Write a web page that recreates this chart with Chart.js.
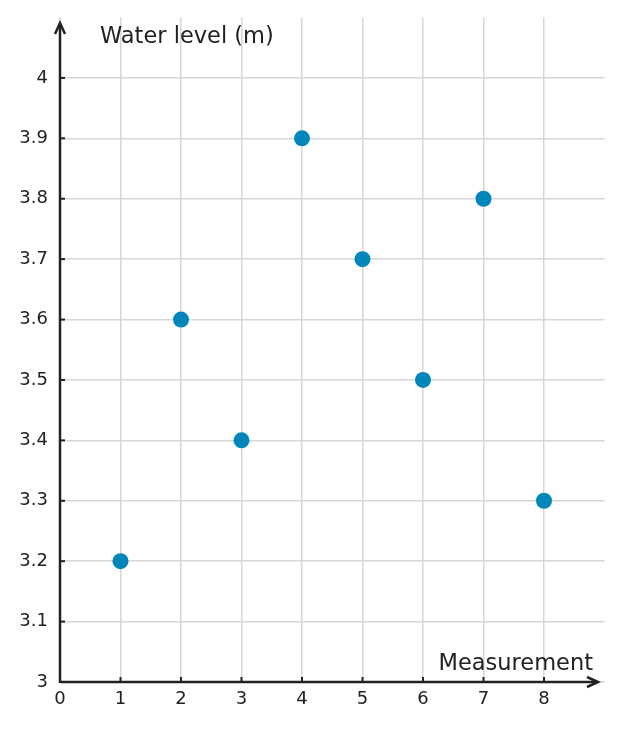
<!DOCTYPE html>
<html>
<head>
    <title>Water level</title>
    <style>
        body {
            margin: 0;
            padding: 0;
            background-color: #fff;
        }

        .chart-box {
            position: relative;
            width: 622px;
            height: 731px;
        }
    </style>
</head>
<body>
<div class="chart-box">
    <canvas id="nivelChart"></canvas>
</div>

<script src="https://cdn.jsdelivr.net/npm/chart.js@4.4.1/dist/chart.umd.min.js"></script>
<script>
    const measurements = [1, 2, 3, 4, 5, 6, 7, 8];
    const waterLevels = [3.2, 3.6, 3.4, 3.9, 3.7, 3.5, 3.8, 3.3];
    const xTicks = [0, 1, 2, 3, 4, 5, 6, 7, 8];
    const yTicks = [3, 3.1, 3.2, 3.3, 3.4, 3.5, 3.6, 3.7, 3.8, 3.9, 4];

    const xTitle = 'Measurement';
    const yTitle = 'Water level (m)';

    const inkColor = '#222222';
    const gridColor = '#d6d6d6';
    const pointColor = '#0086bb';

    // ejes con flecha y marcas hacia dentro
    const axisArrows = {
        id: 'axisArrows',
        afterDraw(chart) {
            const ctx = chart.ctx;
            const x = chart.scales.x;
            const y = chart.scales.y;
            const x0 = x.getPixelForValue(0);
            const y0 = y.getPixelForValue(3);

            ctx.save();
            ctx.strokeStyle = inkColor;
            ctx.fillStyle = inkColor;
            ctx.lineWidth = 2.5;
            ctx.lineCap = 'butt';

            // eje y
            ctx.beginPath();
            ctx.moveTo(x0, y0 + 1);
            ctx.lineTo(x0, 24);
            ctx.stroke();
            ctx.beginPath();
            ctx.moveTo(x0 - 5, 34);
            ctx.lineTo(x0, 23);
            ctx.lineTo(x0 + 5, 34);
            ctx.stroke();

            // eje x
            ctx.beginPath();
            ctx.moveTo(x0 + 1, y0);
            ctx.lineTo(597, y0);
            ctx.stroke();
            ctx.beginPath();
            ctx.moveTo(587, y0 - 5);
            ctx.lineTo(598, y0);
            ctx.lineTo(587, y0 + 5);
            ctx.stroke();

            // marcas
            ctx.lineWidth = 2;
            xTicks.slice(1).forEach(v => {
                const px = x.getPixelForValue(v);
                ctx.beginPath();
                ctx.moveTo(px, y0);
                ctx.lineTo(px, y0 - 5);
                ctx.stroke();
            });
            yTicks.slice(1).forEach(v => {
                const py = y.getPixelForValue(v);
                ctx.beginPath();
                ctx.moveTo(x0, py);
                ctx.lineTo(x0 + 5, py);
                ctx.stroke();
            });

            ctx.font = '22.5px "DejaVu Sans"';
            ctx.textBaseline = 'alphabetic';
            ctx.textAlign = 'left';
            ctx.fillText(yTitle, 100, 43);
            ctx.textAlign = 'right';
            ctx.fillText(xTitle, 593, 670);
            ctx.restore();
        }
    };

    function formatTick(value) {
        return String(+value.toFixed(1));
    }

    const ctx = document.getElementById('nivelChart');

    new Chart(ctx, {
        type: 'scatter',
        data: {
            datasets: [{
                label: yTitle,
                data: measurements.map((m, i) => ({x: m, y: waterLevels[i]})),
                backgroundColor: pointColor,
                borderColor: pointColor,
                borderWidth: 0,
                pointRadius: 8,
                pointHoverRadius: 8
            }]
        },
        options: {
            responsive: true,
            maintainAspectRatio: false,
            animation: false,
            layout: {
                padding: {top: 17.5, right: 17.5, left: 0, bottom: 0}
            },
            scales: {
                x: {
                    type: 'linear',
                    min: 0,
                    max: 9,
                    afterBuildTicks: scale => {
                        scale.ticks = xTicks.map(v => ({value: v}));
                    },
                    afterFit: scale => {
                        scale.height = 49;
                        scale.paddingLeft = 0;
                        scale.paddingRight = 0;
                    },
                    border: {display: false},
                    grid: {
                        color: gridColor,
                        lineWidth: 1.5,
                        drawTicks: false
                    },
                    ticks: {
                        padding: 7,
                        color: inkColor,
                        font: {family: 'DejaVu Sans', size: 18},
                        callback: v => formatTick(v)
                    }
                },
                y: {
                    type: 'linear',
                    min: 3,
                    max: 4.1,
                    afterBuildTicks: scale => {
                        scale.ticks = yTicks.map(v => ({value: v}));
                    },
                    afterFit: scale => {
                        scale.width = 60;
                        scale.paddingTop = 0;
                        scale.paddingBottom = 0;
                    },
                    border: {display: false},
                    grid: {
                        color: gridColor,
                        lineWidth: 1.5,
                        drawTicks: false
                    },
                    ticks: {
                        padding: 12,
                        color: inkColor,
                        font: {family: 'DejaVu Sans', size: 18},
                        callback: v => formatTick(v)
                    }
                }
            },
            plugins: {
                legend: {display: false},
                tooltip: {enabled: false}
            }
        },
        plugins: [axisArrows]
    });
</script>
</body>
</html>
